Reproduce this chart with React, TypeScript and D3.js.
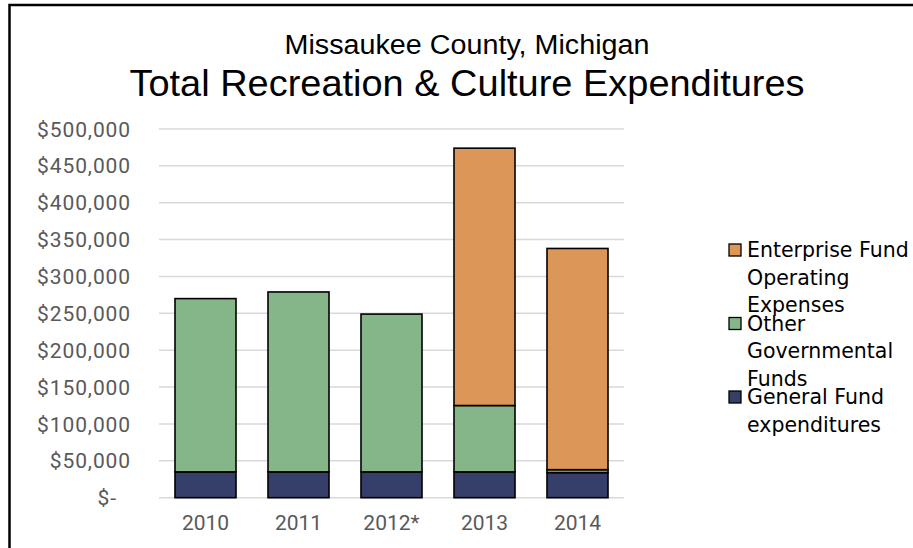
import React from "react";
import * as d3 from "d3";

const years = ["2010", "2011", "2012*", "2013", "2014"];
const generalFund = [35000, 35000, 35000, 35000, 34000];
const otherGov = [235000, 244000, 214000, 90000, 4000];
const enterprise = [0, 0, 0, 349000, 300000];
const yTicks = [0, 50000, 100000, 150000, 200000, 250000, 300000, 350000, 400000, 450000, 500000];

const seriesColors = ["#353F6A", "#84B68A", "#DC9657"];
const legendLines = [
  ["Enterprise Fund", "Operating", "Expenses"],
  ["Other", "Governmental", "Funds"],
  ["General Fund", "expenditures"],
];
const legendColors = ["#DC9657", "#84B68A", "#353F6A"];

export default function App() {
  const W = 913, H = 548;
  const left = 159, right = 624, top = 129, bottom = 497.7;
  const x = d3.scaleBand<string>().domain(years).range([left, right]).paddingInner(0.344).paddingOuter(0.172);
  const y = d3.scaleLinear().domain([0, 500000]).range([bottom, top]);

  const table = years.map((yr, i) => ({ year: yr, s0: generalFund[i], s1: otherGov[i], s2: enterprise[i] }));
  const stacked = d3.stack<any>().keys(["s0", "s1", "s2"])(table);

  const fmt = (v: number) => (v === 0 ? "$-" : "$" + d3.format(",")(v));

  return (
    <svg width={W} height={H} style={{ position: "absolute", left: 0, top: 0, background: "#fff" }}>
      <rect x={9.5} y={5} width={W + 20} height={H + 20} fill="#fff" stroke="#000" strokeWidth={2.5} />
      <text x={467} y={54} textAnchor="middle" fontFamily="Liberation Sans, Arial, sans-serif" fontSize={27} fill="#000" textLength={365} lengthAdjust="spacingAndGlyphs">
        Missaukee County, Michigan
      </text>
      <text x={467} y={96} textAnchor="middle" fontFamily="Liberation Sans, Arial, sans-serif" fontSize={37} fill="#000" textLength={675} lengthAdjust="spacingAndGlyphs">
        Total Recreation &amp; Culture Expenditures
      </text>
      {yTicks.map((t) => (
        <g key={t}>
          <line x1={left} x2={right} y1={y(t)} y2={y(t)} stroke="#D9D9D9" strokeWidth={1.5} />
          <text x={t === 0 ? 117 : 131} y={y(t)} dy="0.36em" textAnchor="end" fontFamily="Roboto, sans-serif" fontSize={21} letterSpacing={0.9} fill="#595959">
            {fmt(t)}
          </text>
        </g>
      ))}
      {stacked.map((layer, si) => (
        <g key={si}>
          {layer.map((d, i) =>
            d[1] - d[0] > 0 ? (
              <rect
                key={i}
                x={x(years[i])!}
                width={x.bandwidth()}
                y={y(d[1])}
                height={y(d[0]) - y(d[1])}
                fill={seriesColors[si]}
                stroke="#000"
                strokeWidth={1.6}
              />
            ) : null
          )}
        </g>
      ))}
      {years.map((yr) => (
        <text key={yr} x={x(yr)! + x.bandwidth() / 2} y={530} textAnchor="middle" fontFamily="Roboto, sans-serif" fontSize={21} fill="#595959">
          {yr}
        </text>
      ))}
      {legendLines.map((lines, i) => {
        const sy = 244 + i * 73.5;
        return (
          <g key={i}>
            <rect x={729} y={sy} width={12} height={12} fill={legendColors[i]} stroke="#000" strokeWidth={1.3} />
            {lines.map((ln, j) => (
              <text key={j} x={747} y={sy + 13 + j * 27.5} fontFamily="DejaVu Sans, Verdana, sans-serif" fontSize={20.5} fill="#000">
                {ln}
              </text>
            ))}
          </g>
        );
      })}
    </svg>
  );
}
